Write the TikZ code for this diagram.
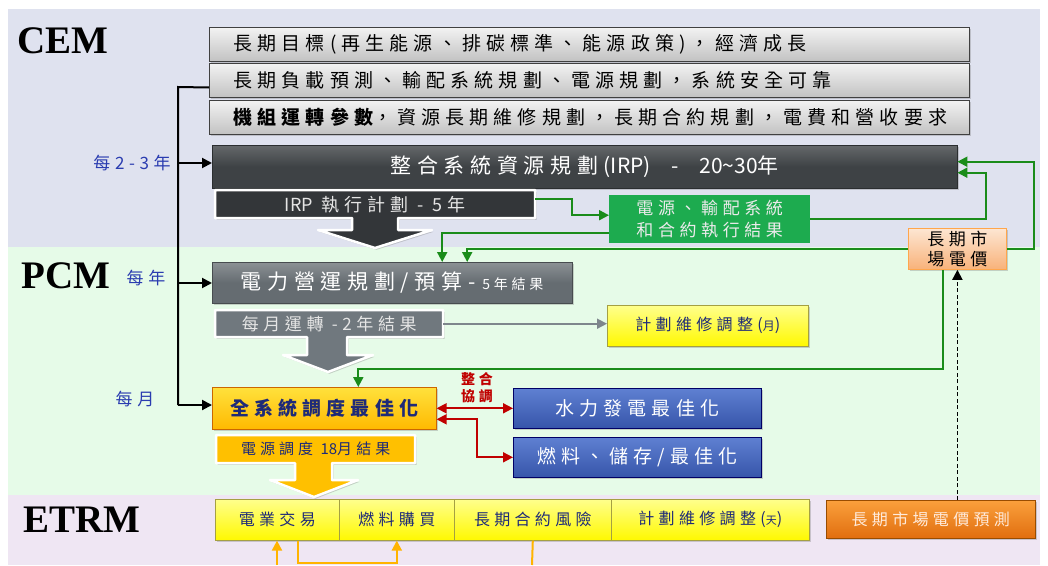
\documentclass[tikz,border=0pt]{standalone}
\usepackage{fontspec}
\setmainfont{Liberation Serif}
\newfontfamily\cjk[LetterSpace=27]{Noto Sans CJK TC}
\newfontfamily\cjkn{Noto Sans CJK TC}
\usetikzlibrary{arrows.meta,shadows}
\definecolor{bgcem}{HTML}{DFE2EF}
\definecolor{bgpcm}{HTML}{E6FBE8}
\definecolor{bgetrm}{HTML}{EFE6F3}
\definecolor{gline}{HTML}{1A8C1A}
\definecolor{gbox}{HTML}{1DAB4F}
\definecolor{navy}{HTML}{1E2A78}
\definecolor{lblue}{HTML}{2A3CB0}
\definecolor{dred}{HTML}{C00000}
\definecolor{amber}{HTML}{FFB400}
\definecolor{irpc}{HTML}{3E4245}
\definecolor{irpsubc}{HTML}{333639}
\definecolor{pcmc}{HTML}{656C71}
\definecolor{monc}{HTML}{70787E}
\definecolor{gold}{HTML}{FFC000}
\definecolor{grayline}{HTML}{7E868C}
\tikzset{
  shd/.style={drop shadow={shadow xshift=1.5pt,shadow yshift=-1.8pt,opacity=0.35}},
  graybox/.style={draw=black!75,line width=1pt,top color=white!95!black,bottom color=black!24,
    minimum width=760,minimum height=34,text width=712,inner xsep=24,align=left,anchor=north west,
    font={\cjk\fontsize{19}{22}\selectfont},shd},
  ybox/.style={draw=yellow!60!black,line width=0.6pt,top color=yellow!45,bottom color=yellow!95!orange,
    text=navy,inner sep=0,anchor=north west,font={\cjk\fontsize{16}{18}\selectfont},shd},
  bbox/.style={draw=blue!40!black,line width=0.6pt,top color={rgb,255:red,95;green,128;blue,210},
    bottom color={rgb,255:red,55;green,85;blue,170},text=white,inner sep=0,anchor=north west,
    minimum width=248,font={\cjk\fontsize{19}{22}\selectfont},shd},
  tip/.style={-{Triangle[length=10pt,width=10pt]}},
  gconn/.style={gline,line width=2pt,tip},
  bconn/.style={black,line width=2pt},
  rconn/.style={dred,line width=1.8pt,{Triangle[length=10pt,width=10pt]}-{Triangle[length=10pt,width=10pt]}},
  oconn/.style={amber,line width=2pt},
  sect/.style={font={\bfseries\fontsize{39}{40}\selectfont}},
  freq/.style={text=lblue,font={\cjk\fontsize{17}{19}\selectfont}},
  bigarrow/.style={draw=white,line width=2.5pt,line join=round,shd},
}
\begin{document}
\begin{tikzpicture}[x=1pt,y=-1pt]
\useasboundingbox (0,0) rectangle (1048,565);
\fill[white] (0,0) rectangle (1048,565);
% bands
\fill[bgcem] (8,9) rectangle (1040,247);
\fill[bgpcm] (8,247) rectangle (1040,495);
\fill[bgetrm] (8,495) rectangle (1040,565);
% section labels
\node[sect] (cem) at (63,41) {CEM};
\node[sect] (pcml) at (66,276) {PCM};
\node[sect] (etrm) at (82,520) {ETRM};
% top gray boxes
\node[graybox] (b1) at (209,27) {長期目標(再生能源、排碳標準、能源政策)，經濟成長};
\node[graybox] (b2) at (209,63) {長期負載預測、輸配系統規劃、電源規劃，系統安全可靠};
\node[graybox] (b3) at (209,100) {{\bfseries 機組運轉參數}，資源長期維修規劃，長期合約規劃，電費和營收要求};
% IRP
\node[anchor=north west,minimum width=745,minimum height=43,inner sep=0,
  top color=irpc!80!white,bottom color=irpc,middle color=irpc,draw=irpc!70!black,text=white,
  font={\cjk\fontsize{21}{24}\selectfont},shd] (irp) at (212,145)
  {整合系統資源規劃({\cjkn IRP})\ \ -\ \ {\cjkn 20\textasciitilde 30}年};
\filldraw[fill=irpsubc,bigarrow] (215,190) -- (535,190) -- (535,218) -- (398,218) -- (398,230) -- (432,230)
  -- (375,248) -- (318,230) -- (352,230) -- (352,218) -- (215,218) -- cycle;
\node[anchor=north west,minimum width=320,minimum height=28,inner sep=0,text=white!90!black,
  font={\cjk\fontsize{18}{20}\selectfont}] (irpsub) at (215,190) {{\cjkn IRP} 執行計劃 - 5年};
% green box
\node[anchor=north west,minimum width=201,minimum height=48,inner sep=0,fill=gbox,text=white!92!black,
  align=center,font={\cjk\fontsize{17}{22}\selectfont}] (gres) at (609,195) {電源、輸配系統\\和合約執行結果};
% long-term market price
\node[anchor=north west,minimum width=98,minimum height=41,inner sep=0,draw=orange!70,line width=0.8pt,
  top color={rgb,255:red,253;green,230;blue,210},bottom color={rgb,255:red,248;green,178;blue,122},
  align=center,font={\cjk\fontsize{17}{20}\selectfont},shd] (ltp) at (908,228) {長期市\\場電價};
% PCM
\node[anchor=north west,minimum width=360,minimum height=41,inner sep=0,top color=pcmc!75!white,
  bottom color=pcmc,middle color=pcmc,draw=pcmc!70!black,text=white,shd] (pcm) at (212,262)
  {{\cjk\fontsize{21}{24}\selectfont 電力營運規劃/預算-}{\cjk\fontsize{14}{16}\selectfont\ 5年結果}};
\filldraw[fill=monc,bigarrow] (215,310) -- (443,310) -- (443,337) -- (347,337) -- (347,355) -- (373,355)
  -- (328,372) -- (283,355) -- (307,355) -- (307,337) -- (215,337) -- cycle;
\node[anchor=north west,minimum width=228,minimum height=27,inner sep=0,text=white!90!black,
  font={\cjk\fontsize{17}{20}\selectfont}] (monthly) at (215,310) {每月運轉 -2年結果};
\node[ybox,minimum width=201,minimum height=41] (mm) at (607,305) {計劃維修調整({\fontsize{12}{12}\selectfont 月})};
% dispatch
\node[anchor=north west,minimum width=224,minimum height=42,inner sep=0,draw=orange!80!black,line width=0.6pt,
  top color={rgb,255:red,255;green,225;blue,60},bottom color={rgb,255:red,255;green,185;blue,0},text=navy,
  font={\cjk\bfseries\fontsize{19}{22}\selectfont},shd] (allsys) at (212,387) {全系統調度最佳化};
\filldraw[fill=gold,bigarrow] (216,435) -- (415,435) -- (415,463) -- (332,463) -- (332,480) -- (358,480)
  -- (314,497) -- (270,480) -- (295,480) -- (295,463) -- (216,463) -- cycle;
\node[anchor=north west,minimum width=199,minimum height=28,inner sep=0,text=navy,
  font={\cjk\fontsize{15}{18}\selectfont}] (disp) at (216,435) {電源調度 {\cjkn 18}月結果};
\node[bbox,minimum height=40] (hydro) at (513,388) {水力發電最佳化};
\node[bbox,minimum height=40] (fuelopt) at (513,437) {燃料、儲存/最佳化};
\node[text=dred,align=center,font={\cjk\bfseries\fontsize{14}{17}\selectfont}] (coord) at (477,388) {整合\\協調};
% ETRM boxes
\node[ybox,minimum width=124,minimum height=41] (trade) at (215,499) {電業交易};
\node[ybox,minimum width=115,minimum height=41] (fuelbuy) at (339,499) {燃料購買};
\node[ybox,minimum width=157,minimum height=41] (ltc) at (454,499) {長期合約風險};
\node[ybox,minimum width=198,minimum height=41] (md) at (611,499) {計劃維修調整({\fontsize{11}{11}\selectfont 天})};
\node[anchor=north west,minimum width=209,minimum height=38,inner sep=0,draw=orange!60!black,line width=0.6pt,
  top color={rgb,255:red,250;green,160;blue,60},bottom color={rgb,255:red,225;green,110;blue,15},
  text={rgb,255:red,255;green,235;blue,220},font={\cjk\fontsize{16}{18}\selectfont},shd] (ltpf) at (826,500) {長期市場電價預測};
% frequency labels
\node[freq] (f1) at (132,163) {每2-3年};
\node[freq] (f2) at (146,278) {每年};
\node[freq] (f3) at (135,399) {每月};
% black trunk
\coordinate (jt) at (178,87);
\coordinate (j1) at (178,163);
\coordinate (j2) at (178,283);
\coordinate (j3) at (178,405);
\draw[bconn] ([yshift=-7pt]b2.west) -- (jt) -- (j3);
\draw[bconn,tip] (j1) -- (j1 -| irp.west);
\draw[bconn,tip] (j2) -- (j2 -| pcm.west);
\draw[bconn,tip] (j3) -- (j3 -| allsys.west);
% green connectors
\draw[gconn] ([yshift=5pt]irpsub.east) -- ++(37,0) |- ([yshift=4pt]gres.west);
\draw[gconn] ([yshift=-14pt]gres.west) -| ([xshift=50pt]pcm.north);
\draw[gconn] (ltp.west) -| ([xshift=75pt]pcm.north);
\draw[gconn] (gres.east) -- ++(176,0) |- ([yshift=-6pt]irp.east);
\draw[gconn] (ltp.east) -- ++(27,0) |- ([yshift=5pt]irp.east);
\draw[gconn] ([xshift=-14pt]ltp.south) -- ++(0,99) -| ([xshift=34pt]allsys.north);
% gray connector
\draw[grayline,line width=1.6pt,tip] (monthly.east) -- (monthly.east -| mm.west);
% dashed
\draw[black,line width=1.8pt,dash pattern=on 4pt off 2.5pt,tip] (ltp.south |- ltpf.north) -- (ltp.south);
% red connectors
\draw[rconn] (allsys.east) -- (allsys.east -| hydro.west);
\draw[rconn] ([yshift=-11pt]allsys.east) -- ++(40,0) |- (fuelopt.west);
% orange connectors
\coordinate (o1) at (277,565);
\coordinate (o2) at (532,565);
\draw[oconn,tip] (o1) -- (o1 |- trade.south);
\draw[oconn,tip] ([xshift=21pt]trade.south) -- ++(0,22) -| (fuelbuy.south);
\draw[oconn] (ltc.south) -- (o2);
\end{tikzpicture}
\end{document}
